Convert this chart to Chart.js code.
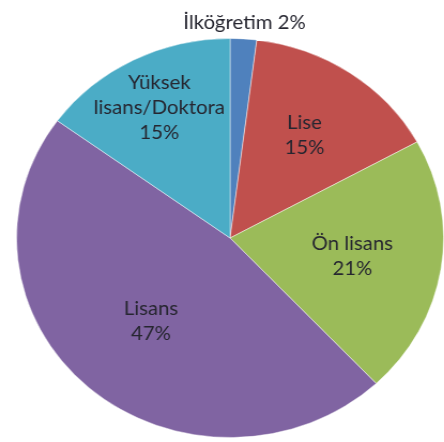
<!DOCTYPE html>
<html lang="tr">
<head>
    <meta charset="UTF-8">
    <title>Eğitim durumu</title>
    <script src="https://cdn.jsdelivr.net/npm/chart.js"></script>
    <style>
        html, body { margin: 0; padding: 0; background: #fff; overflow: hidden; }
        .kutu { width: 444px; height: 442px; overflow: hidden; position: relative; }
        /* the original picture is a bit wider than tall */
        #grafik { position: absolute; left: 0; top: 0; transform: scaleX(1.07); transform-origin: 0 0; }
    </style>
</head>
<body>
    <div class="kutu">
        <canvas id="grafik" width="420" height="442"></canvas>
    </div>

<script>
    const kategoriler = ['İlköğretim', 'Lise', 'Ön lisans', 'Lisans', 'Yüksek lisans/Doktora'];
    const yuzdeler = [2, 15, 21, 47, 15];
    // how each label is broken into lines (the percent is added below)
    const etiketSatirlari = [
        ['İlköğretim'],
        ['Lise'],
        ['Ön lisans'],
        ['Lisans'],
        ['Yüksek', 'lisans/Doktora']
    ];
    const renkler = ['#4F81BD', '#C0504D', '#9BBB59', '#8064A2', '#4BACC6'];

    const etiketEklentisi = {
        id: 'etiketler',
        afterDatasetsDraw(chart, args, opts) {
            const ctx = chart.ctx;
            const arcs = chart.getDatasetMeta(0).data;
            ctx.save();
            ctx.font = opts.font;
            ctx.fillStyle = opts.color;
            ctx.textAlign = 'center';
            ctx.textBaseline = 'middle';
            arcs.forEach(function (arc, i) {
                const orta = (arc.startAngle + arc.endAngle) / 2;
                const r = arc.outerRadius * opts.radius[i];
                const x = arc.x + Math.cos(orta) * r;
                const y = arc.y + Math.sin(orta) * r;
                let satirlar = etiketSatirlari[i].slice();
                const yuzde = yuzdeler[i] + '%';
                if (opts.inline[i]) {
                    satirlar[satirlar.length - 1] += ' ' + yuzde;
                } else {
                    satirlar.push(yuzde);
                }
                const bas = y - (satirlar.length - 1) * opts.lineHeight / 2;
                satirlar.forEach(function (s, j) {
                    ctx.fillText(s, x, bas + j * opts.lineHeight);
                });
            });
            ctx.restore();
        }
    };

    new Chart(document.getElementById('grafik'), {
        type: 'pie',
        data: {
            labels: kategoriler,
            datasets: [{
                data: yuzdeler,
                backgroundColor: renkler,
                borderColor: 'rgba(255,255,255,0.45)',
                borderWidth: 1
            }]
        },
        options: {
            responsive: false,
            animation: false,
            devicePixelRatio: 1,
            layout: { padding: { left: 15, right: 5, top: 38, bottom: 4 } },
            plugins: {
                legend: { display: false },
                tooltip: { enabled: false },
                etiketler: {
                    font: '19px Lato',
                    color: '#262630',
                    lineHeight: 25,
                    radius: [1.08, 0.62, 0.58, 0.56, 0.73],
                    inline: [true, false, false, false, false]
                }
            }
        },
        plugins: [etiketEklentisi]
    });
</script>
</body>
</html>
